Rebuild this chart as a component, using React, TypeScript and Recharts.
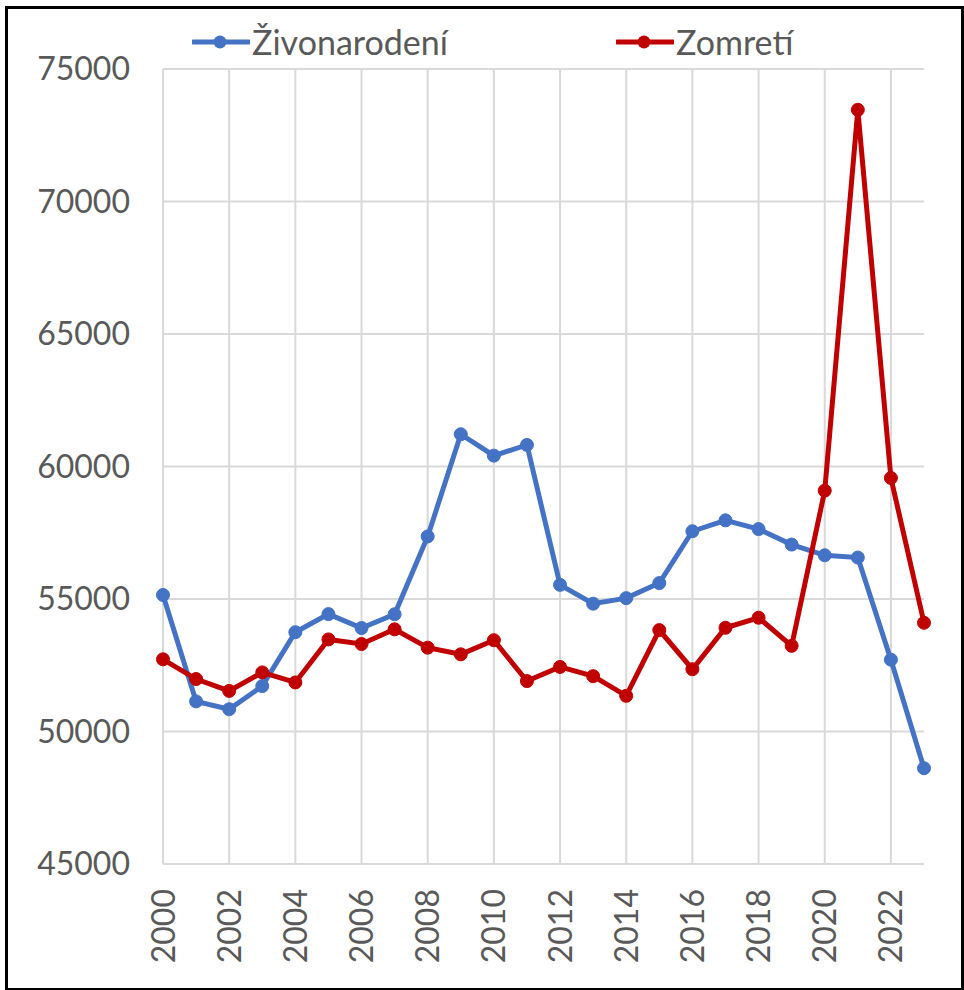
import { LineChart, Line, XAxis, YAxis, CartesianGrid, ReferenceLine } from "recharts";

const years = [
  2000, 2001, 2002, 2003, 2004, 2005, 2006, 2007, 2008, 2009, 2010, 2011,
  2012, 2013, 2014, 2015, 2016, 2017, 2018, 2019, 2020, 2021, 2022, 2023,
];

const births = [
  55151, 51136, 50841, 51713, 53747, 54430, 53904, 54424, 57360, 61217, 60410, 60813,
  55535, 54823, 55033, 55602, 57557, 57969, 57639, 57054, 56650, 56565, 52710, 48614,
];

const deaths = [
  52724, 51980, 51532, 52230, 51852, 53475, 53301, 53856, 53164, 52913, 53445, 51903,
  52437, 52089, 51346, 53826, 52351, 53914, 54293, 53234, 59089, 73461, 59565, 54104,
];

const xTicks = [2000, 2002, 2004, 2006, 2008, 2010, 2012, 2014, 2016, 2018, 2020, 2022];
const yTicks = [45000, 50000, 55000, 60000, 65000, 70000, 75000];

const series = [
  { key: "births", name: "Živonarodení", color: "#4472C4" },
  { key: "deaths", name: "Zomretí", color: "#C00000" },
];

const data = years.map((y, i) => ({ year: y, births: births[i], deaths: deaths[i] }));

const FONT = "Lato, 'Open Sans', sans-serif";
const TEXT = "#595959";
const GRID = "#d9d9d9";

function YearTick(props: any) {
  const { x, y, payload } = props;
  return (
    <text
      x={x}
      y={y}
      transform={`rotate(-90, ${x}, ${y})`}
      textAnchor="end"
      dy="0.36em"
      fill={TEXT}
      fontSize={32}
      fontFamily={FONT}
    >
      {payload.value}
    </text>
  );
}

function LegendItem({ name, color, left }: { name: string; color: string; left: number }) {
  return (
    <div style={{ position: "absolute", left, top: 20, display: "flex", alignItems: "center", height: 44 }}>
      <svg width={58} height={20} style={{ marginRight: 2 }}>
        <line x1={1} y1={10} x2={57} y2={10} stroke={color} strokeWidth={5} strokeLinecap="round" />
        <circle cx={28} cy={10} r={6.5} fill={color} />
      </svg>
      <span style={{ fontFamily: FONT, fontSize: 34, color: TEXT, lineHeight: "44px" }}>{name}</span>
    </div>
  );
}

export default function App() {
  return (
    <div style={{ position: "absolute", left: 0, top: 0, width: 964, height: 990, background: "#fff" }}>
      <div
        style={{
          position: "absolute",
          left: 5,
          top: 6,
          width: 953,
          height: 979,
          border: "3px solid #000",
          boxSizing: "content-box",
        }}
      />
      <LineChart
        width={964}
        height={990}
        data={data}
        margin={{ top: 69, right: 40, bottom: 0, left: 0 }}
        style={{ position: "absolute", left: 0, top: 0 }}
      >
        <CartesianGrid stroke={GRID} strokeWidth={2} vertical={false} />
        <XAxis
          dataKey="year"
          type="number"
          domain={[2000, 2023]}
          ticks={xTicks}
          interval={0}
          height={126}
          tickLine={false}
          axisLine={{ stroke: GRID, strokeWidth: 2 }}
          tickMargin={19}
          tick={<YearTick />}
        />
        <YAxis
          type="number"
          domain={[45000, 75000]}
          ticks={yTicks}
          interval={0}
          width={163}
          tickLine={false}
          axisLine={false}
          tickMargin={27}
          tick={{ fill: TEXT, fontSize: 32, fontFamily: FONT }}
        />
        {xTicks.map((t) => (
          <ReferenceLine key={t} x={t} stroke={GRID} strokeWidth={2} />
        ))}
        {series.map((s) => (
          <Line
            key={s.key}
            dataKey={s.key}
            name={s.name}
            type="linear"
            stroke={s.color}
            strokeWidth={5}
            dot={{ r: 6.5, fill: s.color, stroke: s.color, strokeWidth: 1 }}
            activeDot={false}
            isAnimationActive={false}
          />
        ))}
      </LineChart>
      <LegendItem name={series[0].name} color={series[0].color} left={192} />
      <LegendItem name={series[1].name} color={series[1].color} left={616} />
    </div>
  );
}
